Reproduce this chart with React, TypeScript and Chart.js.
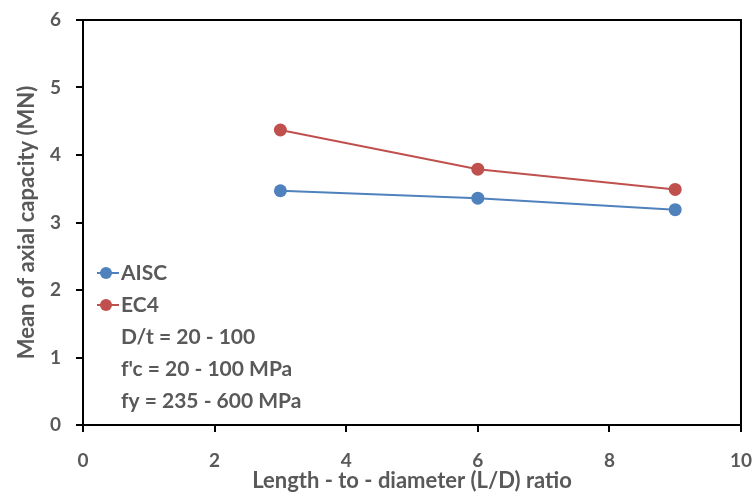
import React, { useEffect, useRef } from "react";
import { Chart, registerables } from "chart.js";

Chart.register(...registerables);

const lengthRatio = [3, 6, 9];
const aiscMean = [3.47, 3.36, 3.19];
const ec4Mean = [4.37, 3.79, 3.49];
const seriesLabels = ["AISC", "EC4"];
const seriesColors = ["#4F81BD", "#C0504D"];
const notes = ["D/t = 20 - 100", "f'c = 20 - 100 MPa", "fy = 235 - 600 MPa"];
const xTitle = "Length - to - diameter (L/D) ratio";
const yTitle = "Mean of axial capacity (MN)";

const FONT = "Lato";
const TEXT = "#595959";

const framePlugin = {
  id: "frame",
  afterDraw(chart: any) {
    const { ctx, chartArea } = chart;
    ctx.save();
    ctx.strokeStyle = "#000";
    ctx.lineWidth = 2;
    ctx.beginPath();
    ctx.moveTo(chartArea.left, chartArea.top);
    ctx.lineTo(chartArea.right, chartArea.top);
    ctx.lineTo(chartArea.right, chartArea.bottom);
    ctx.stroke();
    ctx.restore();
  },
};

const legendPlugin = {
  id: "insideLegend",
  afterDraw(chart: any) {
    const { ctx, chartArea } = chart;
    const x0 = chartArea.left + 14;
    const y0 = chartArea.top + 253;
    const step = 32;
    ctx.save();
    ctx.font = `bold 21px ${FONT}`;
    ctx.textBaseline = "middle";
    ctx.textAlign = "left";
    chart.data.datasets.forEach((ds: any, i: number) => {
      const y = y0 + i * step;
      ctx.strokeStyle = ds.borderColor;
      ctx.lineWidth = 2;
      ctx.beginPath();
      ctx.moveTo(x0, y);
      ctx.lineTo(x0 + 22, y);
      ctx.stroke();
      ctx.fillStyle = ds.backgroundColor;
      ctx.beginPath();
      ctx.arc(x0 + 9, y, 6, 0, Math.PI * 2);
      ctx.fill();
      ctx.fillStyle = TEXT;
      ctx.fillText(ds.label, x0 + 24, y);
    });
    notes.forEach((t, j) => {
      const y = y0 + (chart.data.datasets.length + j) * step;
      ctx.fillStyle = TEXT;
      ctx.fillText(t, x0 + 24, y);
    });
    ctx.restore();
  },
};

const zeroPad = (s: any) => {
  s.paddingLeft = 0;
  s.paddingRight = 0;
  s.paddingTop = 0;
  s.paddingBottom = 0;
};

export default function App() {
  const ref = useRef<HTMLCanvasElement>(null);
  useEffect(() => {
    document.body.style.margin = "0";
    let chart: Chart | null = null;
    let cancelled = false;
    const make = () => {
      if (cancelled || !ref.current) return;
      chart = new Chart(ref.current, {
        type: "line",
        data: {
          datasets: [aiscMean, ec4Mean].map((vals, i) => ({
            label: seriesLabels[i],
            data: lengthRatio.map((x, k) => ({ x, y: vals[k] })),
            borderColor: seriesColors[i],
            backgroundColor: seriesColors[i],
            pointBackgroundColor: seriesColors[i],
            pointBorderColor: seriesColors[i],
            pointRadius: 6.5,
            pointBorderWidth: 0,
            borderWidth: 2,
            tension: 0,
          })),
        },
        options: {
          animation: false,
          responsive: false,
          maintainAspectRatio: false,
          layout: { padding: { left: 0, right: 14, top: 20, bottom: 0 } },
          plugins: { legend: { display: false }, tooltip: { enabled: false } },
          scales: {
            x: {
              type: "linear",
              min: 0,
              max: 10,
              afterFit: (s: any) => {
                s.height = 70;
                zeroPad(s);
              },
              ticks: {
                stepSize: 2,
                color: TEXT,
                font: { family: FONT, size: 19, weight: "bold" },
                padding: 17,
                maxRotation: 0,
              },
              grid: { drawOnChartArea: false, drawTicks: true, tickLength: 7, color: "#000", lineWidth: 2 },
              border: { color: "#000", width: 2 },
              title: {
                display: true,
                text: xTitle,
                color: TEXT,
                font: { family: FONT, size: 22, weight: "bold" },
                padding: { top: 0, bottom: 1 },
              },
            },
            y: {
              type: "linear",
              min: 0,
              max: 6,
              afterFit: (s: any) => {
                s.width = 83;
                zeroPad(s);
              },
              ticks: {
                stepSize: 1,
                color: TEXT,
                font: { family: FONT, size: 19, weight: "bold" },
                padding: 15,
              },
              grid: { drawOnChartArea: false, drawTicks: true, tickLength: 7, color: "#000", lineWidth: 2 },
              border: { color: "#000", width: 2 },
              title: {
                display: true,
                text: yTitle,
                color: TEXT,
                font: { family: FONT, size: 22, weight: "bold" },
                padding: { top: 14, bottom: 0 },
              },
            },
          },
        },
        plugins: [framePlugin, legendPlugin],
      });
    };
    const fontsReady = (document as any).fonts
      ? (document as any).fonts.load(`bold 18px ${FONT}`).then(() => undefined, () => undefined)
      : Promise.resolve();
    fontsReady.then(make);
    return () => {
      cancelled = true;
      if (chart) chart.destroy();
    };
  }, []);
  return (
    <div style={{ width: 755, height: 495, background: "#fff" }}>
      <canvas ref={ref} width={755} height={495} style={{ display: "block" }} />
    </div>
  );
}
